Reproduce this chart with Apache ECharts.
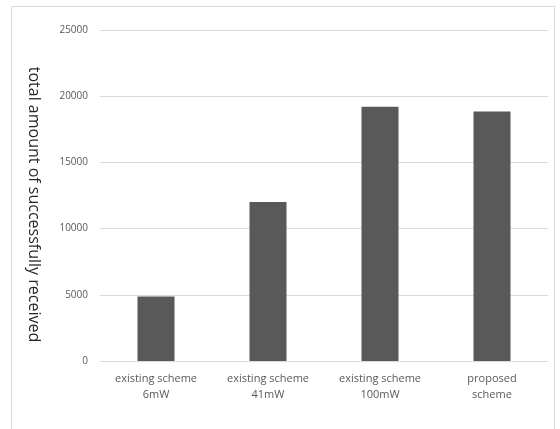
<!DOCTYPE html>
<html>
<head>
<meta charset="utf-8">
<script src="https://cdn.jsdelivr.net/npm/echarts@6/dist/echarts.min.js"></script>
<style>
  html, body { margin: 0; padding: 0; background: #fff; }
  #chart { width: 560px; height: 429px; }
</style>
</head>
<body>
<div id="chart"></div>
<script>
var categories = ['existing scheme\n6mW', 'existing scheme\n41mW', 'existing scheme\n100mW', 'proposed\nscheme'];
var received = [4870, 12000, 19200, 18850];
var yName = 'total amount of successfully received';

var myChart = echarts.init(document.getElementById('chart'));
myChart.setOption({
    animation: false,
    backgroundColor: '#fff',
    graphic: [
        {
            type: 'rect',
            shape: {x: 11.5, y: 6.5, width: 543, height: 440},
            style: {fill: 'none', stroke: '#d9d9d9', lineWidth: 1},
            silent: true
        }
    ],
    grid: {
        left: 100,
        right: 12,
        top: 30,
        bottom: 68
    },
    xAxis: {
        type: 'category',
        data: categories,
        axisLine: {lineStyle: {color: '#d9d9d9'}},
        axisTick: {show: false},
        axisLabel: {
            color: '#595959',
            fontSize: 11,
            fontFamily: 'Open Sans',
            lineHeight: 16,
            margin: 10
        }
    },
    yAxis: {
        type: 'value',
        min: 0,
        max: 25000,
        interval: 5000,
        name: yName,
        nameLocation: 'middle',
        nameRotate: -90,
        nameGap: 58,
        nameTextStyle: {color: '#262626', fontSize: 16, fontFamily: 'Open Sans', padding: [0, 0, 0, 18]},
        axisLine: {show: false},
        axisTick: {show: false},
        axisLabel: {
            color: '#595959',
            fontSize: 10,
            fontFamily: 'Open Sans',
            margin: 12,
            formatter: function (v) { return String(v); }
        },
        splitLine: {lineStyle: {color: '#d9d9d9'}}
    },
    series: [
        {
            type: 'bar',
            data: received,
            barWidth: 37,
            itemStyle: {color: '#595959'}
        }
    ]
});
</script>
</body>
</html>
